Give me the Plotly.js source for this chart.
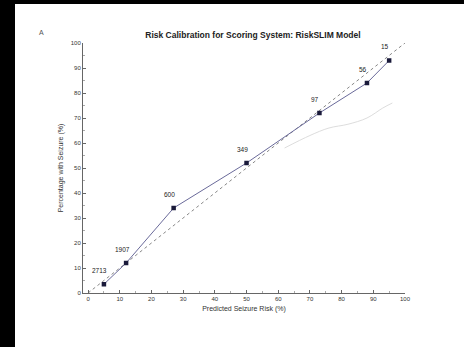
<!DOCTYPE html>
<html><head><meta charset="utf-8">
<script src="https://cdn.plot.ly/plotly-3.0.1.min.js"></script>
<style>
html,body{margin:0;padding:0;background:#000;width:464px;height:347px;overflow:hidden}
#chart{position:absolute;left:15px;top:4px;width:449px;height:343px;background:#fff}
</style></head>
<body><div id="chart"></div>
<script>
// Data
const predictedRisk = [5, 12, 27, 50, 73, 88, 95];
const observedPct   = [3.5, 12, 34, 52, 72, 84, 93];
const binCounts     = ["2713", "1907", "600", "349", "97", "56", "15"];
const diagX = [0, 100];
const diagY = [0, 100];
const lowerBandX = [62, 70, 76, 82, 88, 93, 96];
const lowerBandY = [58, 63, 66, 67.5, 70, 74, 76];
const xTicks = [0,10,20,30,40,50,60,70,80,90,100];
const yTicks = [0,10,20,30,40,50,60,70,80,90,100];

const traces = [
  {x: diagX, y: diagY, mode:'lines', line:{color:'#888', width:1, dash:'dot'}, hoverinfo:'skip'},
  {x: lowerBandX, y: lowerBandY, mode:'lines', line:{color:'#ddd', width:1, shape:'spline'}, hoverinfo:'skip'},
  {x: predictedRisk, y: observedPct, mode:'lines+markers',
   line:{color:'#6a6a9a', width:1},
   marker:{symbol:'square', size:4.5, color:'#1a1a3a'}}
];

const annotations = predictedRisk.map((v,i)=>({
  x: v, y: observedPct[i], xref:'x', yref:'y', text: binCounts[i], showarrow:false,
  xshift:-4, yshift:14, font:{family:'Liberation Sans, Arial', size:6.5, color:'#222'}
}));
annotations.push({x:-0.143, y:1.064, xref:'paper', yref:'paper', text:'A', showarrow:false,
  font:{family:'Liberation Sans, Arial', size:7, color:'#555'}});

const layout = {
  width:449, height:343,
  margin:{l:68, r:59, t:39, b:54},
  paper_bgcolor:'#fff', plot_bgcolor:'#fff',
  showlegend:false,
  font:{family:'Liberation Sans, Arial', color:'#333'},
  title:{text:'<b>Risk Calibration for Scoring System: RiskSLIM Model</b>',
         font:{size:8.5, color:'#222'}, x:0.53, xanchor:'center', y:0.91, yanchor:'middle'},
  xaxis:{range:[-1.6,100], tickvals:xTicks, ticktext:xTicks.map(String),
         showgrid:false, zeroline:false, showline:true, linecolor:'#666', linewidth:1,
         ticks:'inside', ticklen:3, tickcolor:'#666', tickfont:{size:6, color:'#333'},
         minor:{dtick:5, ticks:'inside', ticklen:2, tickcolor:'#aaa'},
         title:{text:'Predicted Seizure Risk (%)', font:{size:7, color:'#333'}, standoff:4}},
  yaxis:{range:[0,100], tickvals:yTicks, ticktext:yTicks.map(String),
         showgrid:false, zeroline:false, showline:true, linecolor:'#666', linewidth:1,
         ticks:'inside', ticklen:3, tickcolor:'#666', tickfont:{size:6, color:'#333'},
         minor:{dtick:5, ticks:'inside', ticklen:2, tickcolor:'#aaa'},
         title:{text:'Percentage with Seizure (%)', font:{size:7, color:'#333'}, standoff:6}},
  annotations: annotations
};
Plotly.newPlot('chart', traces, layout, {staticPlot:true, displayModeBar:false});
</script></body></html>
